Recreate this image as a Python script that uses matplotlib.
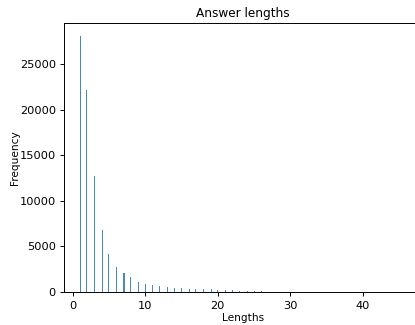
import matplotlib
matplotlib.use("Agg")
import matplotlib.pyplot as plt
import numpy as np

# answer lengths and their frequencies
lengths = list(range(1, 47))
counts = [28150, 22230, 12720, 6720, 4170, 2740, 2010, 1610, 1100, 880,
          730, 620, 550, 440, 390, 300, 300, 280, 270, 200,
          190, 120, 100, 80, 70, 60, 0, 0, 0, 0,
          0, 0, 0, 0, 0, 0, 0, 0, 0, 0,
          0, 0, 0, 0, 0, 0]
title = "Answer lengths"
xlabel = "Lengths"
ylabel = "Frequency"

W, H = 415, 325
fig = plt.figure(figsize=(W / 100, H / 100), dpi=100)
left, right, top, bottom = 63.5, 423, 23, 291.5
ax = fig.add_axes([left / W, 1 - bottom / H, (right - left) / W, (bottom - top) / H])

ax.hist(lengths, bins=300, weights=counts, color="#1f77b4", alpha=0.85)
ax.set_title(title, fontsize=8.7, pad=4)
ax.set_xlabel(xlabel, fontsize=7.6, labelpad=1)
ax.set_ylabel(ylabel, fontsize=7.6, labelpad=-0.5)
ax.tick_params(labelsize=8.2, length=3, width=0.7, pad=2.5)
ax.tick_params(axis="x", pad=4)
for s in ax.spines.values():
    s.set_linewidth(0.7)

fig.savefig("out.png", dpi=100)
